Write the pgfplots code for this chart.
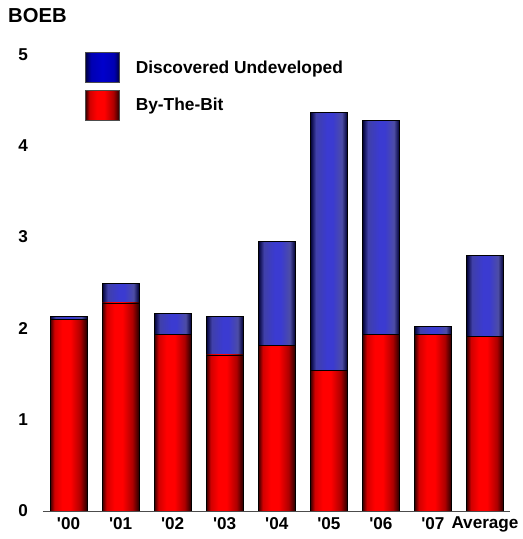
\documentclass[border=0pt]{standalone}
\usepackage{pgfplots}
\pgfplotsset{compat=1.18}
\usepackage{fontspec}
\setmainfont{Liberation Sans}
\pgfdeclarehorizontalshading{redcyl}{100bp}{color(0bp)=(black!80!red); color(25bp)=(black!80!red); color(31bp)=(red!82!black); color(41.5bp)=(red); color(52.5bp)=(red); color(66bp)=(red!68!black); color(75bp)=(black!85!red); color(100bp)=(black!85!red)}
\pgfdeclarehorizontalshading{bluecyl}{100bp}{color(0bp)=(black!80!blue); color(25bp)=(black!80!blue); color(32.5bp)=(blue!55!black!75!white); color(47.5bp)=(blue!72!white!82!black); color(55bp)=(blue!72!white!82!black); color(67.5bp)=(blue!50!black!70!white); color(75bp)=(black!80!blue); color(100bp)=(black!80!blue)}
\pgfdeclarehorizontalshading{bluelegend}{100bp}{color(0bp)=(black!75!blue); color(25bp)=(black!75!blue); color(33bp)=(blue!70!black); color(50bp)=(blue!80!black); color(67bp)=(blue!70!black); color(75bp)=(black!75!blue); color(100bp)=(black!75!blue)}
\pgfplotsset{
  redbar/.style={ybar, bar width=0.71, bar shift=0pt, draw=black, line width=0.6pt, shading=redcyl, forget plot},
  bluebar/.style={ybar, bar width=0.71, bar shift=0pt, draw=black, line width=0.6pt, shading=bluecyl, forget plot},
}
\begin{document}
\begin{tikzpicture}[x=1bp,y=1bp]
\begin{axis}[
  at={(0,0)}, anchor=south west,
  scale only axis, width=467bp, height=456.5bp,
  xmin=-0.49, xmax=8.48, ymin=0, ymax=5,
  enlargelimits=false,
  axis x line*=bottom, axis y line*=left,
  y axis line style={draw=none},
  x axis line style={-, draw=black!70, line width=0.8pt},
  tick style={draw=none},
  xtick={0,...,8},
  xticklabels={\textquotesingle00,\textquotesingle01,\textquotesingle02,\textquotesingle03,\textquotesingle04,\textquotesingle05,\textquotesingle06,\textquotesingle07,Average},
  ytick={0,1,2,3,4,5},
  /pgf/number format/assume math mode=true,
  every tick label/.append style={font=\fontsize{17.2}{20}\selectfont\bfseries},
  xticklabel style={anchor=north, inner sep=0pt, yshift=-6bp},
  yticklabel style={anchor=east, inner sep=0pt, xshift=-15bp},
  legend cell align=left,
  legend style={at={(0,0)}, anchor=north west, xshift=42bp, yshift=459bp,
    draw=none, fill=none, inner sep=0pt, row sep=7bp, column sep=16bp,
    nodes={inner sep=0pt, font=\fontsize{17.4}{20}\selectfont\bfseries}},
  legend image code/.code={\draw[#1] (0bp,-15bp) rectangle (34bp,15bp);},
]
% totals (Discovered Undeveloped on top of By-The-Bit)
\addplot[bluebar] coordinates {(0,2.13)};
\addplot[bluebar] coordinates {(1,2.49)};
\addplot[bluebar] coordinates {(2,2.16)};
\addplot[bluebar] coordinates {(3,2.13)};
\addplot[bluebar] coordinates {(4,2.95)};
\addplot[bluebar] coordinates {(5,4.37)};
\addplot[bluebar] coordinates {(6,4.28)};
\addplot[bluebar] coordinates {(7,2.02)};
\addplot[bluebar] coordinates {(8,2.80)};
% By-The-Bit
\addplot[redbar] coordinates {(0,2.10)};
\addplot[redbar] coordinates {(1,2.28)};
\addplot[redbar] coordinates {(2,1.93)};
\addplot[redbar] coordinates {(3,1.71)};
\addplot[redbar] coordinates {(4,1.81)};
\addplot[redbar] coordinates {(5,1.54)};
\addplot[redbar] coordinates {(6,1.93)};
\addplot[redbar] coordinates {(7,1.93)};
\addplot[redbar] coordinates {(8,1.91)};
\addlegendimage{draw=black!70, line width=0.6pt, shading=bluelegend}
\addlegendentry{Discovered Undeveloped}
\addlegendimage{draw=black!70, line width=0.6pt, shading=redcyl}
\addlegendentry{By-The-Bit}
\end{axis}
\node[anchor=north west, inner sep=0pt, font=\fontsize{20.3}{23}\selectfont\bfseries] at (-35bp,503bp) {BOEB};
\pgfresetboundingbox
\path[use as bounding box] (-43bp,-28bp) rectangle (480bp,511bp);
\end{tikzpicture}
\end{document}
